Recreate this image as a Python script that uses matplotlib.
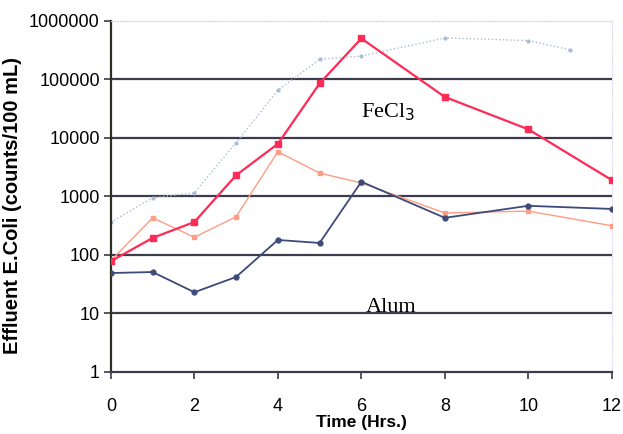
import matplotlib
matplotlib.use("Agg")
import matplotlib.pyplot as plt

# series (log scale)
hours = [0, 1, 2, 3, 4, 5, 6, 8, 10, 12]
fecl3 = [78, 195, 365, 2300, 7900, 85000, 500000, 50000, 14000, 1900]
alum = [49, 51, 23, 42, 180, 160, 1780, 430, 690, 610]
pale = [80, 430, 200, 450, 5800, 2500, 1700, 520, 560, 315]

dot_hours = [0, 1, 2, 3, 4, 5, 6, 8, 10, 11]
dotted = [360, 950, 1150, 8300, 65000, 220000, 250000, 510000, 460000, 320000]

yticks = [1, 10, 100, 1000, 10000, 100000, 1000000]
xticks = [0, 2, 4, 6, 8, 10, 12]

plt.rcParams['font.family'] = ['Liberation Sans', 'DejaVu Sans']

fig = plt.figure(figsize=(6.23, 4.34), dpi=100)
ax = fig.add_axes([0.178, 0.143, 0.804, 0.809])

for v in yticks[1:-1]:
    ax.axhline(v, color='#3c3c4c', lw=1.6, zorder=1)

ax.plot(dot_hours, dotted, color='#a8bcd8', lw=1.0, ls=':', marker='o', ms=2,
        zorder=2)
ax.plot(hours, pale, color='#ff9c84', lw=1.0, marker='s', ms=2.5, zorder=3)
ax.plot(hours, alum, color='#3d4a7a', lw=1.3, marker='o', ms=3.5, zorder=4)
ax.plot(hours, fecl3, color='#ff2a55', lw=1.6, marker='s', ms=4.5, zorder=5)

ax.set_yscale('log')
ax.set_ylim(1, 1000000)
ax.set_xlim(0, 12)
ax.set_yticks(yticks)
ax.set_yticklabels([str(v) for v in yticks])
ax.minorticks_off()
ax.set_xticks(xticks)
ax.tick_params(axis='both', labelsize=13, length=5, width=1.2,
               color='#3c3c4c', pad=3)
ax.tick_params(axis='x', pad=14)

ax.spines['left'].set_color('#2e2e22')
ax.spines['left'].set_linewidth(1.6)
ax.spines['bottom'].set_color('#3c3c4c')
ax.spines['bottom'].set_linewidth(1.6)
ax.spines['top'].set_color('#f4c4dc')
ax.spines['top'].set_linestyle(':')
ax.spines['right'].set_color('#dcdcf0')
ax.spines['right'].set_linestyle(':')

ax.set_xlabel('Time (Hrs.)', fontsize=12.5, fontweight='bold', labelpad=0)
ax.set_ylabel('Effluent E.Coli (counts/100 mL)', fontsize=14.5,
              fontweight='bold')
ax.yaxis.set_label_coords(-0.178, 0.473)

ax.text(6.0, 27000, 'FeCl$_3$', fontsize=16, family='Liberation Serif',
        va='center', ha='left')
ax.text(6.1, 10.4, 'Alum', fontsize=16, family='Liberation Serif',
        va='baseline', ha='left')

fig.savefig('out.png', dpi=100)
